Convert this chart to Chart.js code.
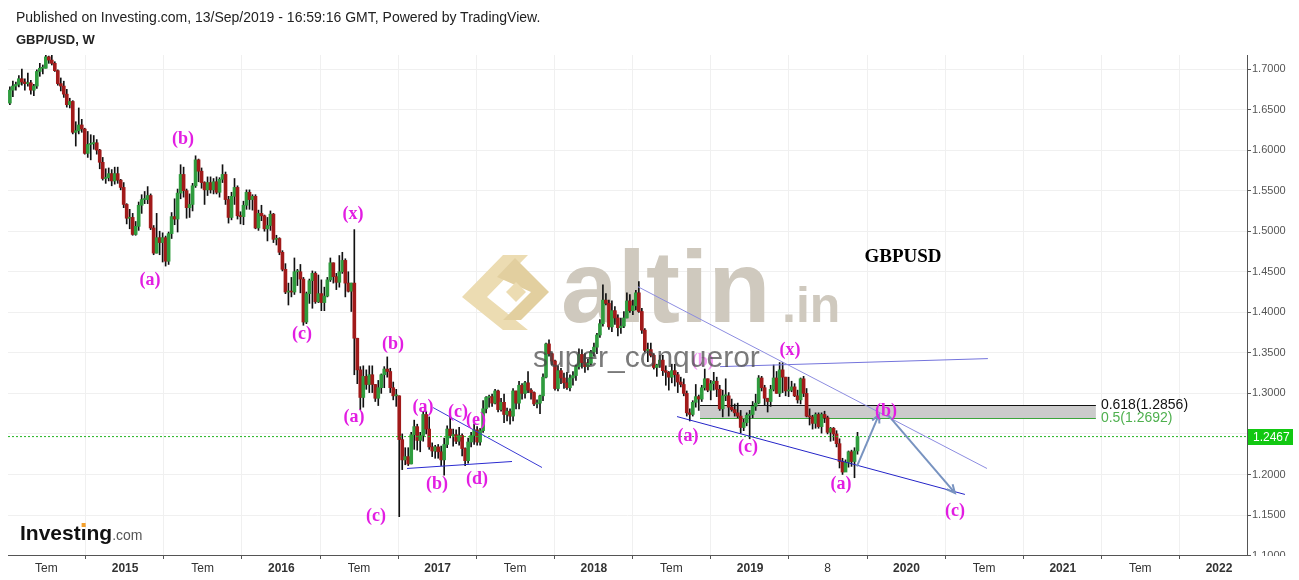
<!DOCTYPE html>
<html lang="en">
<head>
<meta charset="UTF-8">
<title>GBP/USD, W</title>
<script src="https://cdn.jsdelivr.net/npm/chart.js"></script>
<style>
    html, body { margin: 0; padding: 0; background: #fff; }
    body { width: 1299px; height: 580px; position: relative; overflow: hidden; font-family: 'Liberation Sans', Arial, sans-serif; }
    canvas { position: absolute; left: 0; top: 0; }
    .hdr { position: absolute; left: 16px; color: #222; white-space: nowrap; }
    #pub { top: 9px; font-size: 14px; }
    #sym { top: 32px; font-size: 13px; font-weight: bold; }
</style>
</head>
<body>
<canvas id="chart" width="1299" height="580"></canvas>
<div class="hdr" id="pub">Published on Investing.com, 13/Sep/2019 - 16:59:16 GMT, Powered by TradingView.</div>
<div class="hdr" id="sym">GBP/USD, W</div>
<script>
// Weekly GBP/USD candles, first week starts 7 Apr 2014 (x is in fractional years)
const startYear = 2014.263;
const weekLen = 7 / 365.25;
const firstOpen = 1.658;

const closes = [
    // 2014
    1.6740,1.6790,1.6810,1.6880,1.6840,1.6820,1.6830,1.6740,1.6790,1.6970,1.7010,1.7010,1.7150,1.7110,1.7070,1.6980,1.6820,1.6790,1.6690,1.6560,
    1.6600,1.6220,1.6240,1.6310,1.6260,1.5960,1.6070,1.6080,1.6090,1.6000,1.5850,1.5650,1.5660,1.5710,1.5620,1.5710,1.5630,1.5540,
    // 2015
    1.5330,1.5160,1.5170,1.4960,1.5060,1.5320,1.5390,1.5390,1.5440,1.5040,1.4730,1.4920,1.4860,1.4920,1.4630,1.4970,1.5180,1.5150,1.5470,1.5700,
    1.5500,1.5290,1.5330,1.5560,1.5880,1.5740,1.5600,1.5510,1.5600,1.5510,1.5610,1.5480,1.5640,1.5700,1.5390,1.5170,1.5430,1.5540,1.5190,1.5180,
    1.5320,1.5480,1.5390,1.5430,1.5040,1.5220,1.5190,1.5030,1.5070,1.5210,1.4900,1.4910,
    // 2016
    1.4740,1.4530,1.4250,1.4260,1.4250,1.4500,1.4500,1.4410,1.3880,1.4230,1.4390,1.4480,1.4130,1.4230,1.4120,1.4200,1.4400,1.4610,1.4440,1.4370,
    1.4500,1.4640,1.4360,1.4260,1.4360,1.3680,1.3290,1.2950,1.3210,1.3110,1.3230,1.3110,1.2940,1.3070,1.3230,1.3300,1.3270,1.3070,1.2970,1.2970,
    1.2430,1.2180,1.2220,1.2130,1.2490,1.2590,1.2420,1.2480,1.2740,1.2560,1.2340,1.2290,1.2340,
    // 2017
    1.2280,1.2180,1.2370,1.2560,1.2480,1.2490,1.2410,1.2480,1.2320,1.2170,1.2400,1.2480,1.2550,1.2400,1.2540,1.2810,1.2950,1.2960,1.2880,1.3030,
    1.2800,1.2890,1.2740,1.2780,1.2720,1.3030,1.2880,1.3100,1.3000,1.3130,1.3040,1.3010,1.2870,1.2880,1.2970,1.3200,1.3610,1.3490,1.3400,1.3060,
    1.3280,1.3190,1.3130,1.3070,1.3190,1.3220,1.3330,1.3480,1.3380,1.3330,1.3370,1.3510,
    // 2018
    1.3570,1.3720,1.3860,1.4150,1.4110,1.3820,1.4020,1.3930,1.3810,1.3830,1.3930,1.4140,1.4020,1.4080,1.4240,1.4010,1.3780,1.3530,1.3540,1.3470,
    1.3320,1.3350,1.3410,1.3280,1.3260,1.3200,1.3280,1.3230,1.3140,1.3110,1.3000,1.2760,1.2740,1.2890,1.2960,1.2930,1.3070,1.3180,1.3040,1.3120,
    1.3150,1.3050,1.2810,1.2970,1.2970,1.2830,1.2800,1.2760,1.2720,1.2580,1.2640,1.2730,
    // 2019
    1.2740,1.2840,1.2880,1.3190,1.3070,1.2940,1.2900,1.3050,1.3190,1.3000,1.3290,1.3200,1.3030,1.3040,1.3080,1.2970,1.2920,1.3180,1.3000,1.2720,
    1.2710,1.2630,1.2740,1.2590,1.2740,1.2700,1.2520,1.2570,1.2500,1.2380,1.2160,1.2030,1.2150,1.2280,1.2160,1.2290,1.2467
];

const highs = [
    1.678,1.685,1.684,1.692,1.700,1.688,1.695,1.686,1.681,1.699,1.707,1.705,1.717,1.716,1.719,1.709,1.699,1.689,1.685,1.675,
    1.664,1.661,1.635,1.652,1.638,1.627,1.623,1.619,1.618,1.613,1.601,1.591,1.577,1.578,1.576,1.579,1.579,1.564,
    1.560,1.534,1.527,1.522,1.512,1.536,1.545,1.549,1.555,1.546,1.507,1.522,1.500,1.498,1.494,1.499,1.523,1.540,1.552,1.582,
    1.579,1.552,1.546,1.559,1.593,1.589,1.578,1.561,1.567,1.567,1.565,1.567,1.566,1.582,1.573,1.543,1.548,1.565,1.556,1.524,
    1.537,1.551,1.551,1.545,1.545,1.526,1.532,1.520,1.517,1.525,1.522,1.495,
    1.492,1.476,1.460,1.436,1.443,1.467,1.453,1.459,1.443,1.425,1.441,1.451,1.450,1.446,1.440,1.431,1.443,1.467,1.461,1.448,
    1.470,1.474,1.466,1.450,1.436,1.502,1.368,1.333,1.334,1.329,1.334,1.334,1.311,1.316,1.324,1.333,1.345,1.331,1.314,1.305,
    1.297,1.250,1.233,1.233,1.252,1.267,1.262,1.252,1.278,1.278,1.271,1.239,1.236,
    1.237,1.235,1.245,1.260,1.271,1.256,1.255,1.258,1.250,1.233,1.245,1.252,1.262,1.259,1.257,1.291,1.296,1.298,1.299,1.305,
    1.304,1.294,1.299,1.282,1.281,1.306,1.303,1.315,1.312,1.315,1.327,1.306,1.302,1.292,1.298,1.324,1.362,1.366,1.350,1.341,
    1.334,1.331,1.325,1.326,1.323,1.327,1.335,1.355,1.354,1.349,1.342,1.353,
    1.362,1.374,1.391,1.434,1.423,1.415,1.414,1.407,1.397,1.393,1.401,1.424,1.422,1.415,1.427,1.438,1.405,1.380,1.362,1.362,
    1.349,1.336,1.347,1.347,1.334,1.327,1.336,1.336,1.326,1.320,1.318,1.303,1.281,1.291,1.311,1.298,1.310,1.330,1.318,1.316,
    1.326,1.320,1.310,1.304,1.318,1.301,1.293,1.287,1.288,1.279,1.268,1.276,
    1.279,1.290,1.299,1.322,1.321,1.310,1.294,1.310,1.335,1.327,1.338,1.338,1.320,1.320,1.315,1.312,1.304,1.319,1.321,1.306,
    1.281,1.273,1.276,1.276,1.276,1.278,1.272,1.258,1.258,1.254,1.244,1.220,1.218,1.229,1.230,1.233,1.252
];

const lows = [
    1.656,1.666,1.674,1.678,1.680,1.674,1.679,1.669,1.667,1.676,1.691,1.694,1.701,1.707,1.705,1.697,1.680,1.673,1.665,1.653,
    1.652,1.620,1.605,1.620,1.622,1.595,1.591,1.588,1.601,1.595,1.577,1.563,1.559,1.562,1.556,1.558,1.559,1.551,
    1.529,1.509,1.503,1.495,1.495,1.501,1.522,1.534,1.534,1.502,1.471,1.473,1.471,1.462,1.457,1.459,1.491,1.508,1.499,1.540,
    1.542,1.516,1.517,1.525,1.554,1.561,1.553,1.533,1.544,1.547,1.546,1.546,1.542,1.560,1.533,1.510,1.514,1.533,1.515,1.509,
    1.508,1.527,1.527,1.526,1.503,1.501,1.513,1.500,1.488,1.501,1.486,1.483,
    1.471,1.451,1.423,1.409,1.419,1.422,1.433,1.424,1.384,1.386,1.411,1.405,1.411,1.412,1.402,1.402,1.419,1.438,1.436,1.428,
    1.431,1.448,1.419,1.425,1.401,1.323,1.312,1.280,1.283,1.305,1.301,1.301,1.290,1.285,1.300,1.307,1.320,1.301,1.292,1.284,
    1.148,1.206,1.212,1.211,1.213,1.231,1.230,1.228,1.241,1.250,1.231,1.222,1.220,
    1.220,1.211,1.199,1.233,1.245,1.235,1.238,1.236,1.223,1.211,1.214,1.234,1.237,1.236,1.236,1.252,1.276,1.283,1.284,1.287,
    1.277,1.278,1.264,1.266,1.262,1.266,1.281,1.281,1.293,1.294,1.301,1.293,1.285,1.282,1.275,1.291,1.319,1.346,1.335,1.304,
    1.303,1.312,1.306,1.305,1.303,1.310,1.316,1.330,1.331,1.326,1.329,1.335,
    1.346,1.349,1.369,1.383,1.409,1.379,1.376,1.385,1.371,1.374,1.381,1.393,1.400,1.397,1.403,1.400,1.374,1.351,1.339,1.345,
    1.330,1.321,1.332,1.322,1.310,1.304,1.313,1.309,1.301,1.308,1.297,1.272,1.266,1.272,1.283,1.279,1.290,1.304,1.302,1.292,
    1.304,1.296,1.279,1.271,1.291,1.272,1.278,1.272,1.270,1.251,1.254,1.260,
    1.244,1.270,1.279,1.287,1.303,1.285,1.277,1.284,1.303,1.300,1.296,1.301,1.297,1.296,1.302,1.296,1.288,1.287,1.296,1.271,
    1.261,1.256,1.257,1.257,1.251,1.264,1.250,1.241,1.242,1.234,1.208,1.200,1.205,1.209,1.210,1.196,1.225
];

const lastPrice = 1.2467;

// axis ticks
const xTickVals = [2014.496, 2015, 2015.496, 2016, 2016.497, 2017, 2017.496, 2018, 2018.496, 2019, 2019.496, 2020, 2020.497, 2021, 2021.496, 2022];
const xTickLabels = ['Tem', '2015', 'Tem', '2016', 'Tem', '2017', 'Tem', '2018', 'Tem', '2019', '8', '2020', 'Tem', '2021', 'Tem', '2022'];
const yTickVals = [1.10, 1.15, 1.20, 1.25, 1.30, 1.35, 1.40, 1.45, 1.50, 1.55, 1.60, 1.65, 1.70];

// wave labels: [text, year, price]
const waveLabels = [
    ['(b)', 2015.371, 1.6138], ['(a)', 2015.160, 1.4389], ['(x)', 2016.459, 1.5202], ['(c)', 2016.132, 1.3724],
    ['(b)', 2016.715, 1.3601], ['(a)', 2016.465, 1.2702], ['(c)', 2016.606, 1.1483], ['(a)', 2016.907, 1.2825],
    ['(b)', 2016.996, 1.1877], ['(c)', 2017.130, 1.2764], ['(e)', 2017.246, 1.2665], ['(d)', 2017.252, 1.1939],
    ['(a)', 2018.602, 1.2468], ['(c)', 2018.986, 1.2333], ['(x)', 2019.255, 1.3527], ['(a)', 2019.581, 1.1877],
    ['(b)', 2019.869, 1.2776], ['(c)', 2020.310, 1.1545]
];
const fadedLabel = ['(b)', 2018.696, 1.3392];

// trend lines: [x1, y1, x2, y2, colour]
const trendLines = [
    [2016.804, 1.2074, 2017.476, 1.2160, '#2a2ad0'],
    [2016.971, 1.2825, 2017.668, 1.2086, '#3a3ad4'],
    [2018.532, 1.2714, 2020.374, 1.1754, '#2424c8'],
    [2018.282, 1.4315, 2020.515, 1.2074, '#8c8ce0'],
    [2018.807, 1.3330, 2020.521, 1.3429, '#7474dc']
];

// projected path arrows: [x1, y1, x2, y2]
const arrows = [
    [2019.683, 1.2099, 2019.824, 1.2739],
    [2019.880, 1.2739, 2020.310, 1.1773]
];

// fibonacci zone
const fibTop = 1.2856;
const fibBottom = 1.2692;
const fibStart = 2018.679;
const fibEnd = 2021.212;

const upColor = '#2f9c3e';
const downColor = '#a11a1a';

const wickData = [];
const bodyData = [];
const bodyColors = [];
closes.forEach((c, i) => {
    const o = i === 0 ? firstOpen : closes[i - 1];
    const t = startYear + i * weekLen;
    wickData.push({ x: t, y: [lows[i], highs[i]] });
    bodyData.push({ x: t, y: [o, c] });
    bodyColors.push(c >= o ? upColor : downColor);
});

const xMin = 2014.251, xMax = 2022.179;

const lineSets = trendLines.map(l => ({
    type: 'line',
    data: [{ x: l[0], y: l[1] }, { x: l[2], y: l[3] }],
    borderColor: l[4],
    borderWidth: 1,
    pointRadius: 0,
    order: 0
}));

lineSets.push({
    type: 'line',
    data: [{ x: xMin, y: lastPrice }, { x: xMax, y: lastPrice }],
    borderColor: '#22b422',
    borderWidth: 1,
    borderDash: [2, 2],
    pointRadius: 0,
    order: 0
});

function drawArrow(ctx, x1, y1, x2, y2) {
    ctx.beginPath();
    ctx.moveTo(x1, y1);
    ctx.lineTo(x2, y2);
    ctx.stroke();
    const a = Math.atan2(y2 - y1, x2 - x1), L = 9, w = 0.45;
    ctx.beginPath();
    ctx.moveTo(x2 - L * Math.cos(a - w), y2 - L * Math.sin(a - w));
    ctx.lineTo(x2, y2);
    ctx.lineTo(x2 - L * Math.cos(a + w), y2 - L * Math.sin(a + w));
    ctx.stroke();
}

function poly(ctx, pts, color) {
    ctx.fillStyle = color;
    ctx.beginPath();
    pts.forEach((p, i) => i ? ctx.lineTo(p[0], p[1]) : ctx.moveTo(p[0], p[1]));
    ctx.closePath();
    ctx.fill();
}

const overlay = {
    id: 'overlay',
    beforeDatasetsDraw(chart) {
        const { ctx, scales: { x, y } } = chart;
        ctx.save();
        // watermark logo
        poly(ctx, [[462, 297], [503, 255], [528, 255], [487, 297], [528, 330], [503, 330]], '#ecdcb2');
        poly(ctx, [[497, 277], [515, 258], [549, 292], [521, 320], [503, 320], [531, 292]], '#e2cf9f');
        poly(ctx, [[506, 292], [516, 282], [526, 292], [516, 302]], '#ecdcb2');
        // watermark text
        ctx.fillStyle = '#cfc9be';
        ctx.textBaseline = 'alphabetic';
        ctx.font = 'bold 102px "Liberation Sans", Arial, sans-serif';
        ctx.fillText('altin', 561, 322);
        ctx.font = 'bold 50px "Liberation Sans", Arial, sans-serif';
        ctx.fillText('.in', 782, 322);
        // fib zone
        const fx1 = x.getPixelForValue(fibStart), fx2 = x.getPixelForValue(fibEnd);
        const fy1 = y.getPixelForValue(fibTop), fy2 = y.getPixelForValue(fibBottom);
        ctx.fillStyle = '#cbcbcb';
        ctx.fillRect(fx1, fy1, fx2 - fx1, fy2 - fy1);
        ctx.lineWidth = 1;
        ctx.strokeStyle = '#111';
        ctx.beginPath(); ctx.moveTo(fx1, Math.round(fy1) + 0.5); ctx.lineTo(fx2, Math.round(fy1) + 0.5); ctx.stroke();
        ctx.strokeStyle = '#3aa53a';
        ctx.beginPath(); ctx.moveTo(fx1, Math.round(fy2) + 0.5); ctx.lineTo(fx2, Math.round(fy2) + 0.5); ctx.stroke();
        ctx.restore();
    },
    afterDatasetsDraw(chart) {
        const { ctx, scales: { x, y } } = chart;
        ctx.save();
        // fib labels
        ctx.font = '14px "Liberation Sans", Arial, sans-serif';
        ctx.textAlign = 'left';
        ctx.textBaseline = 'alphabetic';
        const lx = x.getPixelForValue(fibEnd) + 5;
        ctx.fillStyle = '#111';
        ctx.fillText('0.618(' + fibTop.toFixed(4) + ')', lx, y.getPixelForValue(fibTop) + 4);
        ctx.fillStyle = '#4fb04f';
        ctx.fillText('0.5(' + fibBottom.toFixed(4) + ')', lx, y.getPixelForValue(fibBottom) + 4);

        // arrows
        ctx.strokeStyle = '#7893c0';
        ctx.lineWidth = 2;
        arrows.forEach(a => drawArrow(ctx, x.getPixelForValue(a[0]), y.getPixelForValue(a[1]), x.getPixelForValue(a[2]), y.getPixelForValue(a[3])));

        // wave labels
        ctx.font = 'bold 18px "Liberation Serif", "Times New Roman", serif';
        ctx.textAlign = 'center';
        ctx.textBaseline = 'middle';
        ctx.fillStyle = 'rgba(226,29,226,0.45)';
        ctx.fillText(fadedLabel[0], x.getPixelForValue(fadedLabel[1]), y.getPixelForValue(fadedLabel[2]));
        ctx.fillStyle = '#e21de2';
        waveLabels.forEach(l => ctx.fillText(l[0], x.getPixelForValue(l[1]), y.getPixelForValue(l[2])));

        // title on chart
        ctx.fillStyle = '#000';
        ctx.font = 'bold 19px "Liberation Serif", "Times New Roman", serif';
        ctx.fillText('GBPUSD', x.getPixelForValue(2019.978), y.getPixelForValue(1.4685));

        // author watermark
        ctx.textAlign = 'left';
        ctx.textBaseline = 'alphabetic';
        ctx.fillStyle = 'rgba(70,70,70,0.72)';
        ctx.font = '30px "Liberation Sans", Arial, sans-serif';
        ctx.fillText('super_conqueror', 533, 367);
        ctx.restore();
    },
    afterDraw(chart) {
        const { ctx, chartArea, scales: { y } } = chart;
        ctx.save();
        // hide lower half of the cut-off bottom price label
        ctx.fillStyle = '#fff';
        ctx.fillRect(chartArea.right + 1, chartArea.bottom + 1, 60, 30);
        // last price tag
        const py = Math.round(y.getPixelForValue(lastPrice));
        ctx.fillStyle = '#12c812';
        ctx.fillRect(chartArea.right + 1, py - 8, 45, 16);
        ctx.fillStyle = '#fff';
        ctx.font = '12px "Liberation Sans", Arial, sans-serif';
        ctx.textBaseline = 'middle';
        ctx.fillText(lastPrice.toFixed(4), chartArea.right + 6, py + 1);
        // investing.com logo
        ctx.textBaseline = 'alphabetic';
        ctx.font = 'bold 21px "Liberation Sans", Arial, sans-serif';
        ctx.fillStyle = '#111';
        ctx.fillText('Investing', 20, 540);
        const w = ctx.measureText('Investing').width;
        const wi = ctx.measureText('Invest').width;
        const wd = ctx.measureText('i').width;
        ctx.fillStyle = '#f4a02c';
        ctx.fillRect(20 + wi + wd / 2 - 2, 523, 4, 4);
        ctx.font = '14px "Liberation Sans", Arial, sans-serif';
        ctx.fillStyle = '#555';
        ctx.fillText('.com', 20 + w, 540);
        ctx.restore();
    }
};

new Chart(document.getElementById('chart').getContext('2d'), {
    type: 'bar',
    data: {
        datasets: [
            ...lineSets,
            {
                data: wickData,
                backgroundColor: '#111',
                barThickness: 1,
                grouped: false,
                order: 2
            },
            {
                data: bodyData,
                backgroundColor: bodyColors,
                borderWidth: 0,
                barThickness: 3,
                minBarLength: 1,
                grouped: false,
                order: 1
            }
        ]
    },
    options: {
        responsive: false,
        animation: false,
        devicePixelRatio: 1,
        layout: { padding: { left: 8, top: 55, right: 0, bottom: 0 } },
        plugins: { legend: { display: false }, tooltip: { enabled: false } },
        scales: {
            x: {
                type: 'linear',
                position: 'bottom',
                min: xMin,
                max: xMax,
                offset: false,
                afterBuildTicks: s => { s.ticks = xTickVals.map(v => ({ value: v })); },
                afterFit: s => { s.height = 25; },
                grid: { color: '#f0f0f0', tickLength: 4, tickColor: '#555' },
                border: { color: '#555' },
                ticks: {
                    autoSkip: false,
                    maxRotation: 0,
                    padding: 2,
                    color: '#333',
                    callback: (v, i) => xTickLabels[i],
                    font: c => ({
                        family: '"Liberation Sans Narrow", "Liberation Sans", Arial, sans-serif',
                        size: 12,
                        weight: /^\d{4}$/.test(xTickLabels[c.index]) ? 'bold' : 'normal'
                    })
                }
            },
            y: {
                type: 'linear',
                position: 'right',
                min: 1.1007,
                max: 1.7173,
                afterBuildTicks: s => { s.ticks = yTickVals.map(v => ({ value: v })); },
                afterFit: s => { s.width = 52; },
                grid: { color: '#f0f0f0', tickLength: 4, tickColor: '#555' },
                border: { color: '#555' },
                ticks: {
                    padding: 1,
                    color: '#555',
                    font: { family: '"Liberation Sans", Arial, sans-serif', size: 11 },
                    callback: v => v.toFixed(4)
                }
            }
        }
    },
    plugins: [overlay]
});
</script>
</body>
</html>
